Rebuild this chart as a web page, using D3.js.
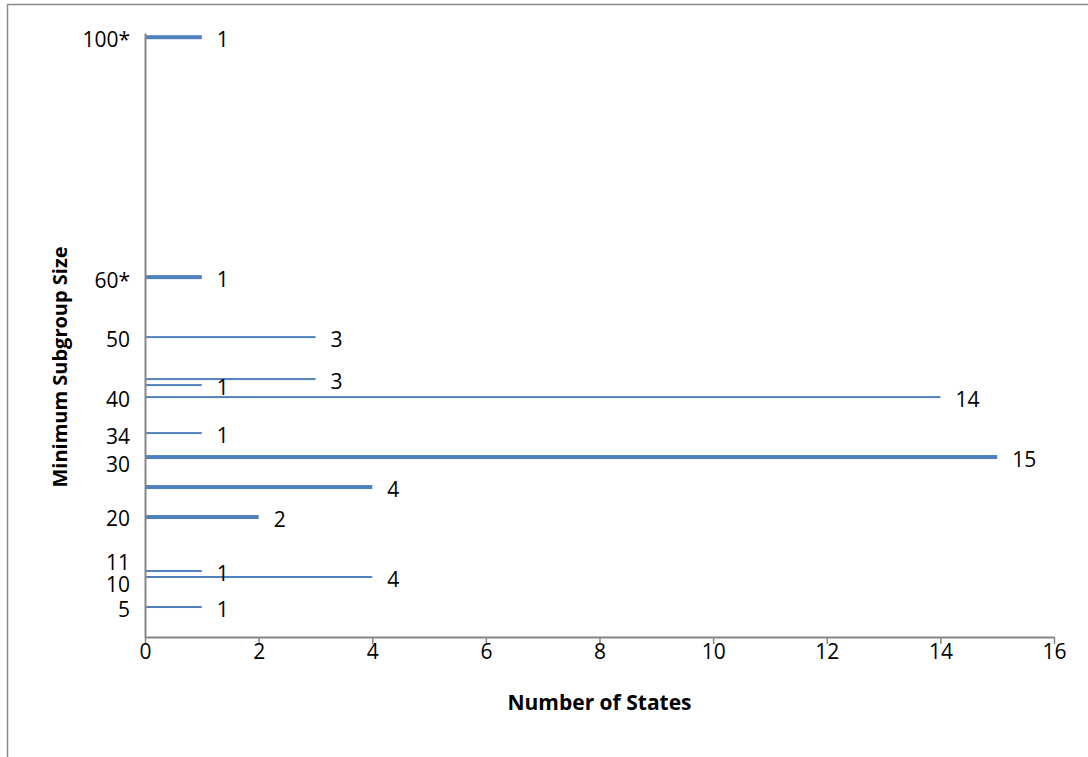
<!DOCTYPE html>
<html>
<head>
<meta charset="utf-8">
<script src="https://cdn.jsdelivr.net/npm/d3@7/dist/d3.min.js"></script>
<style>
  html, body { margin: 0; padding: 0; background: #fff; }
  svg { display: block; }
  text { font-family: "Open Sans", "DejaVu Sans", sans-serif; fill: #000; }
</style>
</head>
<body>
<svg id="chart" width="1088" height="757"></svg>
<script>
// ---- data ----
// series drawn with thick bars
const thickSizes  = [100, 60, 30, 25, 20];
const thickCounts = [1, 1, 15, 4, 2];
// series drawn with thin bars
const thinSizes   = [50, 43, 42, 40, 34, 11, 10, 5];
const thinCounts  = [3, 3, 1, 14, 1, 1, 4, 1];
// y-axis category labels and the value they sit beside
const yLabels     = ["100*", "60*", "50", "40", "34", "30", "20", "11", "10", "5"];
const yLabelAt    = [100, 59.8, 50, 40, 33.9, 29.2, 20.2, 12.8, 9.2, 5];
// x-axis ticks
const xTicks      = [0, 2, 4, 6, 8, 10, 12, 14, 16];
const xTitle = "Number of States";
const yTitle = "Minimum Subgroup Size";

// ---- layout ----
const svg = d3.select("#chart");
const pLeft = 145, pRight = 1054, pTop = 33, pBottom = 637;
const x = d3.scaleLinear().domain([0, 16]).range([pLeft, pRight]);
const y = d3.scaleLinear().domain([0, 100.7]).range([pBottom, pTop]);
const blue = "#4f81bd", axisCol = "#868686";

// outer frame (cropped chart border)
svg.append("path")
  .attr("d", "M7.5,757 V4.5 H1088")
  .attr("fill", "none").attr("stroke", "#8a8a8a").attr("stroke-width", 1.5);

// bars
function drawBars(sizes, counts, thick) {
  const data = sizes.map((s, i) => ({ s, c: counts[i] }));
  svg.append("g").selectAll("rect").data(data).enter().append("rect")
    .attr("x", x(0) + 1)
    .attr("y", d => y(d.s) - thick / 2)
    .attr("width", d => x(d.c) - x(0) - 1)
    .attr("height", thick)
    .attr("fill", blue);
  svg.append("g").selectAll("text").data(data).enter().append("text")
    .attr("x", d => x(d.c) + 15)
    .attr("y", d => y(d.s) + 10)
    .attr("font-size", 21)
    .text(d => d.c);
}
drawBars(thickSizes, thickCounts, 4);
drawBars(thinSizes, thinCounts, 2);

// y axis (line only)
const gy = svg.append("g").attr("transform", `translate(${pLeft},0)`)
  .call(d3.axisLeft(y).tickValues([]).tickSizeOuter(0));
gy.select(".domain").attr("stroke", axisCol).attr("stroke-width", 2);

// y category labels
svg.append("g").selectAll("text").data(yLabels).enter().append("text")
  .attr("x", 130)
  .attr("y", (d, i) => y(yLabelAt[i]) + 10)
  .attr("text-anchor", "end")
  .attr("font-size", 21)
  .text(d => d);

// x axis
const gx = svg.append("g").attr("transform", `translate(0,${pBottom})`)
  .call(d3.axisBottom(x).tickValues(xTicks).tickSize(7).tickSizeOuter(0).tickFormat(d3.format("d")));
gx.select(".domain").attr("stroke", axisCol).attr("stroke-width", 2);
gx.selectAll(".tick line").attr("stroke", axisCol).attr("stroke-width", 1.5);
gx.selectAll(".tick text")
  .attr("y", 22).attr("dy", 0)
  .attr("font-size", 21)
  .style("font-family", "'Open Sans', sans-serif").attr("fill", "#000");

// titles
svg.append("text")
  .attr("x", (pLeft + pRight) / 2).attr("y", 710)
  .attr("text-anchor", "middle")
  .attr("font-size", 21).attr("font-weight", "bold")
  .text(xTitle);
svg.append("text")
  .attr("transform", "translate(67,367) rotate(-90)")
  .attr("text-anchor", "middle")
  .attr("font-size", 20).attr("font-weight", "bold")
  .text(yTitle);
</script>
</body>
</html>
